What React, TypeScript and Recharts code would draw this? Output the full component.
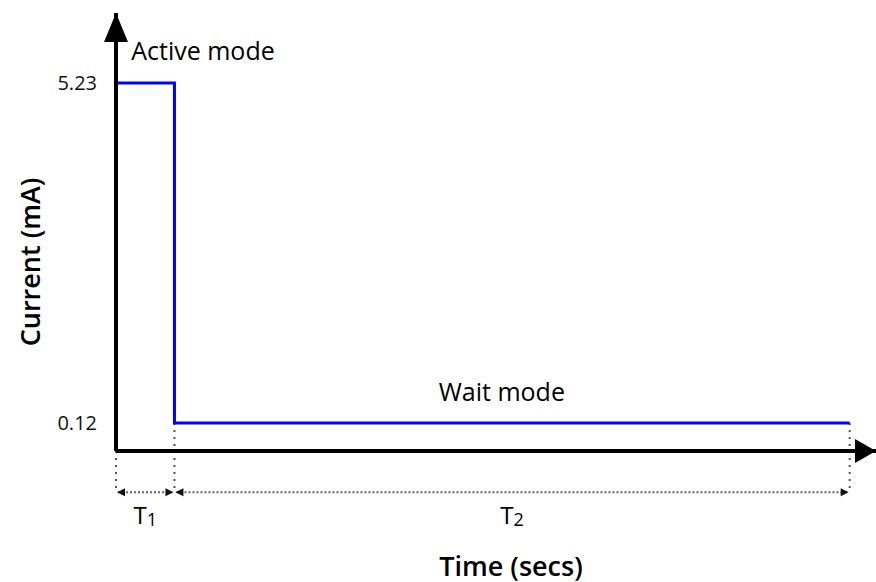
import { LineChart, Line, XAxis, YAxis, ReferenceLine, ReferenceDot } from "recharts"

// step profile: active burst, then wait current
const times = [0, 1, 12.55]
const currents = [5.23, 0.12, 0.12]
const yTicks = [0.12, 5.23]

const X_MAX = 13
const Y_MIN = -0.3
const Y_MAX = 6.28
const DIM_BOTTOM = -0.92 // level of the dimension arrows below the axis
const DIM_LABEL = -1.25

const data = times.map((t, i) => ({ t, current: currents[i] }))

const FONT = "'Open Sans', sans-serif"

const UpArrow = (props: any) => (
  <polygon points={`${props.cx},${props.cy} ${props.cx - 12},${props.cy + 29} ${props.cx + 12},${props.cy + 29}`} fill="#000" />
)

const RightArrow = (props: any) => (
  <polygon points={`${props.cx},${props.cy} ${props.cx - 21},${props.cy - 12} ${props.cx - 21},${props.cy + 12}`} fill="#000" />
)

// dotted line with small filled heads on both ends
const DimArrow = (props: any) => {
  const { x1, y1, x2, y2 } = props
  return (
    <g>
      <line x1={x1 + 2} y1={y1} x2={x2 - 2} y2={y2} stroke="#666" strokeWidth={2} strokeDasharray="2 2" />
      <polygon points={`${x1 + 1},${y1} ${x1 + 9},${y1 - 4} ${x1 + 9},${y1 + 4}`} fill="#111" />
      <polygon points={`${x2 - 1},${y2} ${x2 - 9},${y2 - 4} ${x2 - 9},${y2 + 4}`} fill="#111" />
    </g>
  )
}

const textDot = (main: string, sub: string | null, anchor: string, size: number) => (props: any) => (
  <text x={props.cx} y={props.cy} textAnchor={anchor} dominantBaseline="central" fontFamily={FONT} fontSize={size} fill="#000">
    {main}
    {sub && (
      <tspan fontSize={size * 0.75} dy={5}>
        {sub}
      </tspan>
    )}
  </text>
)

export default function App() {
  return (
    <div style={{ position: "absolute", left: 0, top: 0, background: "#fff" }}>
      <LineChart width={876} height={582} data={data} margin={{ top: 13, right: 0, left: 0, bottom: 0 }}>
        <XAxis
          dataKey="t"
          type="number"
          domain={[0, X_MAX]}
          allowDataOverflow
          height={131}
          tick={false}
          tickLine={false}
          axisLine={{ stroke: "#000", strokeWidth: 4 }}
          label={{
            content: (p: any) => (
              <text
                x={p.viewBox.x + p.viewBox.width / 2 + 15}
                y={p.viewBox.y + 114}
                textAnchor="middle"
                dominantBaseline="central"
                fontFamily={FONT}
                fontSize={27}
                fontWeight={600}
                fill="#000"
              >
                Time (secs)
              </text>
            ),
          }}
        />
        <YAxis
          type="number"
          domain={[Y_MIN, Y_MAX]}
          allowDataOverflow
          width={116}
          ticks={yTicks}
          tickFormatter={(v: number) => v.toFixed(2)}
          tickLine={false}
          tickSize={6}
          tickMargin={13}
          tick={{ fill: "#111", fontSize: 20, fontFamily: FONT }}
          axisLine={{ stroke: "#000", strokeWidth: 4 }}
          label={{
            content: (p: any) => {
              const x = p.viewBox.x + 29
              const y = p.viewBox.y + p.viewBox.height / 2 + 30
              return (
                <text
                  x={x}
                  y={y}
                  transform={`rotate(-90, ${x}, ${y})`}
                  textAnchor="middle"
                  dominantBaseline="central"
                  fontFamily={FONT}
                  fontSize={27}
                  fontWeight={600}
                  fill="#000"
                >
                  Current (mA)
                </text>
              )
            },
          }}
        />

        {/* dotted guides down to the dimension arrows */}
        <ReferenceLine segment={[{ x: times[0], y: Y_MIN }, { x: times[0], y: DIM_BOTTOM }]} ifOverflow="visible" stroke="#555" strokeWidth={2} strokeDasharray="2 5" />
        <ReferenceLine segment={[{ x: times[1], y: currents[1] }, { x: times[1], y: DIM_BOTTOM }]} ifOverflow="visible" stroke="#555" strokeWidth={2} strokeDasharray="2 5" />
        <ReferenceLine segment={[{ x: times[2], y: currents[2] }, { x: times[2], y: DIM_BOTTOM }]} ifOverflow="visible" stroke="#555" strokeWidth={2} strokeDasharray="2 5" />

        <ReferenceLine segment={[{ x: times[0], y: DIM_BOTTOM }, { x: times[1], y: DIM_BOTTOM }]} ifOverflow="visible" shape={DimArrow} />
        <ReferenceLine segment={[{ x: times[1], y: DIM_BOTTOM }, { x: times[2], y: DIM_BOTTOM }]} ifOverflow="visible" shape={DimArrow} />

        <Line type="stepAfter" dataKey="current" stroke="#0000ff" strokeWidth={3} dot={false} activeDot={false} isAnimationActive={false} />

        <ReferenceDot x={0} y={Y_MAX} ifOverflow="visible" shape={UpArrow} />
        <ReferenceDot x={X_MAX} y={Y_MIN} ifOverflow="visible" shape={RightArrow} />

        <ReferenceDot x={0.26} y={5.72} ifOverflow="visible" shape={textDot("Active mode", null, "start", 25)} />
        <ReferenceDot x={6.6} y={0.6} ifOverflow="visible" shape={textDot("Wait mode", null, "middle", 25)} />
        <ReferenceDot x={(times[0] + times[1]) / 2} y={DIM_LABEL} ifOverflow="visible" shape={textDot("T", "1", "middle", 24)} />
        <ReferenceDot x={(times[1] + times[2]) / 2} y={DIM_LABEL} ifOverflow="visible" shape={textDot("T", "2", "middle", 24)} />
      </LineChart>
    </div>
  )
}
